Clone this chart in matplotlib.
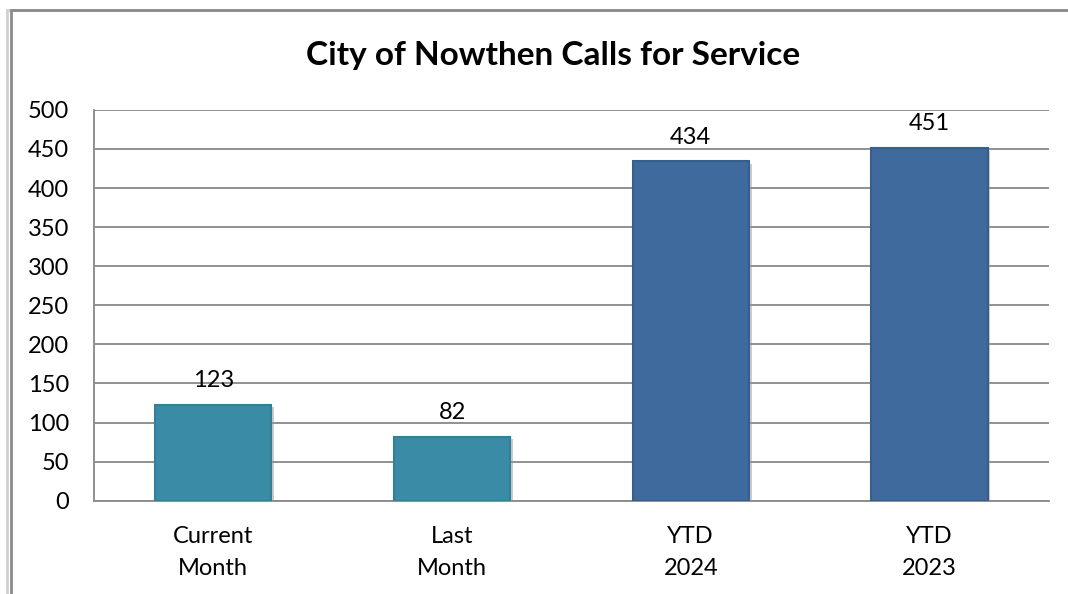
import matplotlib.pyplot as plt
import matplotlib.patches as mpatches
import matplotlib.patheffects as pe

categories = ["Current\nMonth", "Last\nMonth", "YTD\n2024", "YTD\n2023"]
calls = [123, 82, 434, 451]
bar_colors = ["#3a8ca6", "#3a8ca6", "#3e6a9d", "#3e6a9d"]
edge_colors = ["#347e96", "#347e96", "#375f8e", "#375f8e"]

plt.rcParams['font.family'] = ['Lato', 'DejaVu Sans']

fig = plt.figure(figsize=(10.68, 5.94), dpi=100)
ax = fig.add_axes([0.088, 0.157, 0.894, 0.658])

x = range(len(categories))
bars = ax.bar(x, calls, width=0.487, color=bar_colors, edgecolor=edge_colors,
              linewidth=1.5, zorder=3)
for b in bars:
    b.set_path_effects([pe.SimplePatchShadow(offset=(2, -2), shadow_rgbFace='#999999', alpha=0.5),
                        pe.Normal()])

for b, v in zip(bars, calls):
    ax.annotate(str(v), (b.get_x() + b.get_width() / 2, v), xytext=(0, 10),
                textcoords='offset points', ha='center', va='bottom', fontsize=17)

ax.set_xlim(-0.5, 3.5)
ax.set_ylim(0, 500)
ax.set_yticks(range(0, 501, 50))
ax.set_xticks(list(x))
ax.set_xticklabels(categories, fontsize=17, linespacing=1.65)
ax.tick_params(axis='y', labelsize=17, length=0, pad=18)
ax.tick_params(axis='x', length=0, pad=18)
ax.yaxis.grid(True, color='#888888', linewidth=1.3, zorder=0)
ax.set_axisbelow(True)
for s in ['top', 'right']:
    ax.spines[s].set_visible(False)
for s in ['left', 'bottom']:
    ax.spines[s].set_color('#888888')
    ax.spines[s].set_linewidth(1.3)

fig.text(0.518, 0.907, "City of Nowthen Calls for Service", ha='center', va='center',
         fontsize=24, fontweight='bold')

# chart frame with soft shadow on the left
frame = mpatches.Rectangle((11 / 1068, -0.05), 1.1, 1 - 10 / 594 + 0.05,
                           transform=fig.transFigure, fill=False,
                           edgecolor='#8a8a8a', linewidth=2, clip_on=False)
frame.set_path_effects([pe.SimpleLineShadow(offset=(-3, 0), shadow_color='#bbbbbb', alpha=0.7),
                        pe.Normal()])
fig.patches.append(frame)

fig.savefig('out.png', dpi=100)
